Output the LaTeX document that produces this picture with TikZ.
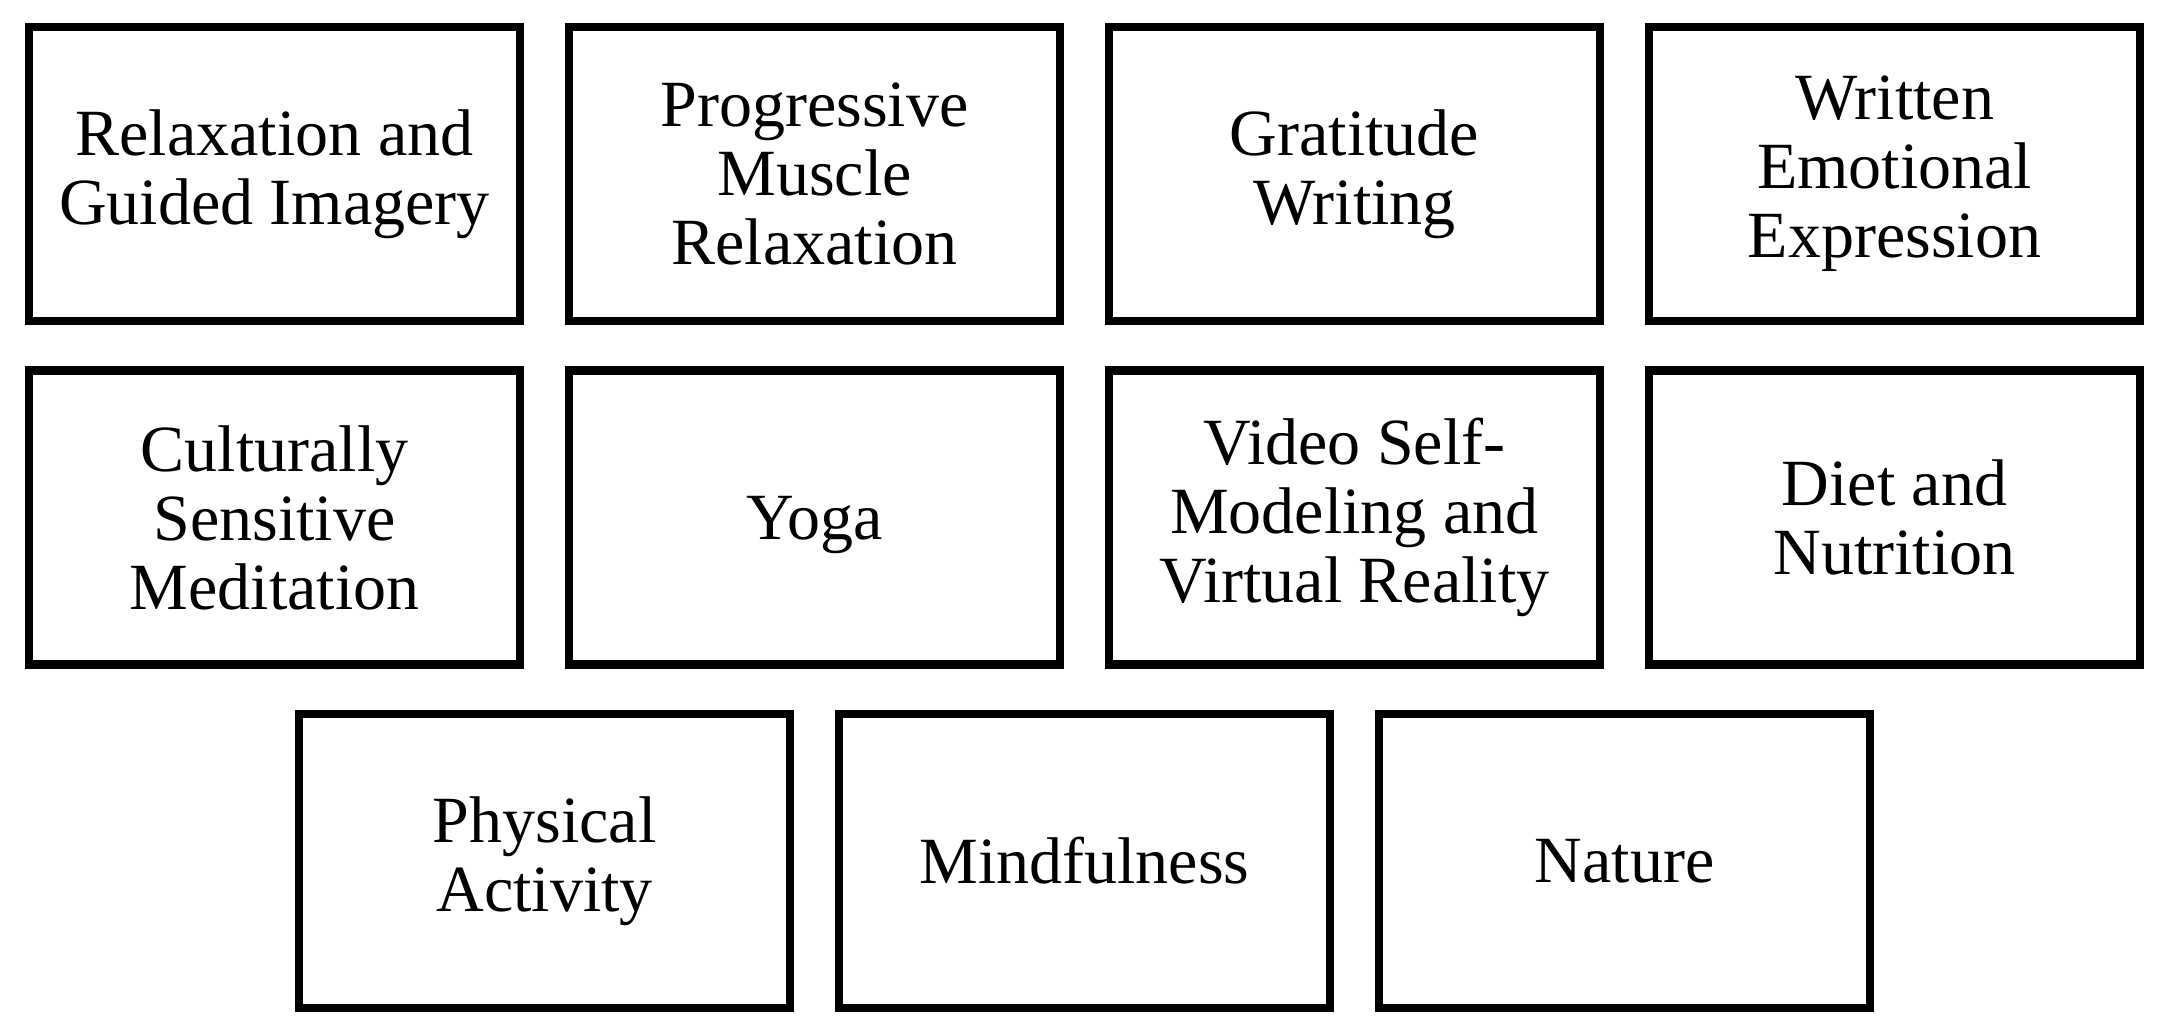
\documentclass[tikz,border=0pt]{standalone}
\usepackage{fontspec}
\setmainfont{Liberation Serif}
\begin{document}
\begin{tikzpicture}[x=1pt,y=-1pt,
  cell/.style={draw=black,line width=8.5pt,fill=white,rectangle,
    minimum width=491pt,minimum height=294pt,inner sep=0pt,
    align=center,font=\fontsize{66}{69}\selectfont}]
\useasboundingbox[fill=white] (0,0) rectangle (2172,1032);
\node[cell] (a1) at (274.5,174) {Relaxation and\\Guided Imagery};
\node[cell] (a2) at (814.5,174) {Progressive\\Muscle\\Relaxation};
\node[cell] (a3) at (1354.5,174) {Gratitude\\Writing};
\node[cell] (a4) at (1894.5,174) {Written\\Emotional\\Expression};
\node[cell] (b1) at (274.5,517.5) {Culturally\\Sensitive\\Meditation};
\node[cell,text depth=0pt] (b2) at (814.5,517.5) {Yoga};
\node[cell] (b3) at (1354.5,517.5) {Video Self-\\Modeling and\\Virtual Reality};
\node[cell] (b4) at (1894.5,517.5) {Diet and\\Nutrition};
\node[cell] (c1) at (544.5,861) {Physical\\Activity};
\node[cell] (c2) at (1084.5,861) {Mindfulness};
\node[cell] (c3) at (1624.5,861) {Nature};
\end{tikzpicture}
\end{document}
